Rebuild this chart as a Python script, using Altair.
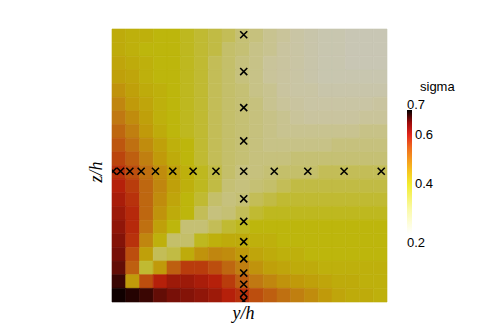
import altair as alt
import pandas as pd
import numpy as np

# sigma, one list per row of cells (z/h from top to bottom),
# columns are y/h cell centres 0.025 ... 0.975
z975 = [0.42,0.41,0.41,0.40,0.40,0.39,0.38,0.37,0.36,0.34,0.33,0.31,0.30,0.28,0.27,0.26,0.26,0.25,0.25,0.25]
z925 = [0.42,0.41,0.40,0.40,0.40,0.39,0.38,0.37,0.35,0.34,0.32,0.31,0.29,0.28,0.27,0.26,0.26,0.25,0.25,0.25]
z875 = [0.43,0.42,0.41,0.40,0.40,0.39,0.38,0.36,0.35,0.33,0.32,0.30,0.29,0.28,0.27,0.26,0.26,0.25,0.25,0.25]
z825 = [0.44,0.43,0.41,0.40,0.40,0.39,0.38,0.36,0.35,0.33,0.32,0.30,0.29,0.28,0.27,0.26,0.26,0.26,0.26,0.26]
z775 = [0.46,0.44,0.42,0.41,0.40,0.39,0.38,0.36,0.35,0.34,0.32,0.31,0.29,0.28,0.28,0.27,0.27,0.27,0.27,0.27]
z725 = [0.48,0.45,0.43,0.41,0.40,0.39,0.38,0.36,0.35,0.34,0.33,0.31,0.30,0.29,0.28,0.28,0.28,0.28,0.28,0.29]
z675 = [0.50,0.47,0.44,0.41,0.40,0.39,0.38,0.36,0.35,0.34,0.33,0.32,0.31,0.30,0.29,0.29,0.29,0.29,0.30,0.30]
z625 = [0.52,0.49,0.45,0.42,0.40,0.39,0.38,0.36,0.35,0.34,0.33,0.32,0.31,0.31,0.31,0.31,0.31,0.31,0.32,0.32]
z575 = [0.54,0.51,0.47,0.44,0.41,0.40,0.38,0.36,0.35,0.34,0.33,0.32,0.32,0.32,0.32,0.32,0.33,0.33,0.33,0.33]
z525 = [0.56,0.53,0.49,0.45,0.42,0.40,0.38,0.36,0.35,0.34,0.33,0.33,0.33,0.34,0.34,0.34,0.34,0.34,0.34,0.34]
z475 = [0.58,0.55,0.51,0.47,0.44,0.41,0.39,0.37,0.35,0.33,0.33,0.34,0.35,0.35,0.35,0.36,0.36,0.36,0.36,0.36]
z425 = [0.60,0.57,0.52,0.48,0.44,0.41,0.39,0.37,0.34,0.33,0.34,0.35,0.36,0.37,0.37,0.37,0.37,0.37,0.37,0.37]
z375 = [0.61,0.58,0.52,0.47,0.43,0.40,0.38,0.35,0.33,0.34,0.36,0.37,0.38,0.38,0.38,0.38,0.38,0.38,0.38,0.38]
z325 = [0.62,0.59,0.52,0.46,0.42,0.40,0.36,0.33,0.34,0.36,0.38,0.39,0.39,0.39,0.39,0.39,0.39,0.39,0.39,0.39]
z275 = [0.63,0.59,0.51,0.44,0.40,0.34,0.34,0.36,0.38,0.39,0.40,0.40,0.40,0.40,0.40,0.40,0.40,0.40,0.40,0.40]
z225 = [0.64,0.58,0.48,0.41,0.35,0.35,0.39,0.41,0.42,0.42,0.41,0.41,0.40,0.40,0.40,0.40,0.40,0.40,0.40,0.40]
z175 = [0.65,0.55,0.44,0.36,0.37,0.42,0.46,0.48,0.47,0.45,0.43,0.42,0.41,0.41,0.40,0.40,0.40,0.40,0.40,0.40]
z125 = [0.66,0.53,0.38,0.45,0.53,0.57,0.57,0.55,0.52,0.49,0.46,0.44,0.43,0.42,0.42,0.41,0.41,0.41,0.41,0.41]
z075 = [0.68,0.45,0.55,0.60,0.62,0.62,0.61,0.60,0.57,0.53,0.50,0.48,0.46,0.45,0.44,0.43,0.42,0.42,0.41,0.41]
z025 = [0.70,0.69,0.68,0.66,0.65,0.64,0.63,0.62,0.60,0.58,0.55,0.53,0.51,0.49,0.47,0.45,0.43,0.42,0.42,0.41]

sigma_rows = [z975, z925, z875, z825, z775, z725, z675, z625, z575, z525,
              z475, z425, z375, z325, z275, z225, z175, z125, z075, z025]

# probe positions (crosses)
probe_pos = [0.004, 0.031, 0.065, 0.106, 0.158, 0.221, 0.295, 0.378, 0.479,
             0.590, 0.712, 0.844, 0.979]
probe_line = 0.479

inner_labels = [0.4, 0.6]
end_labels = [0.2, 0.7]

# scales
stops = [0.20, 0.25, 0.30, 0.35, 0.40, 0.45, 0.50, 0.55, 0.60, 0.65, 0.70]
field_colors = ["#c8c8c8", "#c8c6b4", "#c9c49a", "#c4bf6a", "#bdb60c", "#c09a0a",
                "#c07812", "#bc4e0e", "#b5200a", "#781008", "#100000"]
bar_stops = [0.20, 0.30, 0.40, 0.45, 0.50, 0.55, 0.60, 0.65, 0.70]
bar_colors = ["#ffffff", "#fafaa8", "#f2ec30", "#f6c820", "#f59a1e", "#ef6a1e",
              "#e2261c", "#9a0a0a", "#000000"]

n = len(sigma_rows)
edges = np.round(np.linspace(0, 1, n + 1), 4)
recs = []
for i, row in enumerate(sigma_rows):
    z_hi = edges[n - i]
    z_lo = edges[n - i - 1]
    for j, s in enumerate(row):
        recs.append({"y0": edges[j], "y1": edges[j + 1], "z0": z_lo, "z1": z_hi, "sigma": s})
df = pd.DataFrame(recs)

cross_recs = [{"y": p, "z": probe_line} for p in probe_pos]
cross_recs += [{"y": probe_line, "z": p} for p in probe_pos if p != probe_line]
cdf = pd.DataFrame(cross_recs)

ldf = pd.DataFrame({"sigma": [0.2, 0.7]})

xs = alt.Scale(domain=[0, 1], nice=False, zero=False, padding=0)
ys = alt.Scale(domain=[0, 1], nice=False, zero=False, padding=0)
field_scale = alt.Scale(domain=stops, range=field_colors, interpolate="rgb")
bar_scale = alt.Scale(domain=bar_stops, range=bar_colors, interpolate="rgb")

heat = alt.Chart(df).mark_rect(strokeWidth=0.6).encode(
    x=alt.X("y0:Q", scale=xs, axis=alt.Axis(
        title="y/h", labels=False, ticks=False, domain=False, grid=False,
        titleFont="Liberation Serif", titleFontStyle="italic", titleFontWeight="normal",
        titleFontSize=18, titleColor="black", titleX=131, titleY=16,
        titleAlign="center", titleBaseline="alphabetic")),
    x2="y1:Q",
    y=alt.Y("z0:Q", scale=ys, axis=alt.Axis(
        title="z/h", labels=False, ticks=False, domain=False, grid=False,
        titleFont="Liberation Serif", titleFontStyle="italic", titleFontWeight="normal",
        titleFontSize=18, titleColor="black", titleX=-11, titleY=142.5,
        titleAngle=270, titleAlign="center", titleBaseline="alphabetic")),
    y2="z1:Q",
    color=alt.Color("sigma:Q", scale=field_scale, legend=None),
    stroke=alt.Stroke("sigma:Q", scale=field_scale, legend=None),
)

crosses = alt.Chart(cdf).mark_point(
    shape="M-1,-1L1,1M-1,1L1,-1", size=50, filled=False, stroke="black",
    strokeWidth=1.6, opacity=1, clip=True
).encode(x=alt.X("y:Q", scale=xs), y=alt.Y("z:Q", scale=ys))

lab_font = dict(labelFont="Liberation Sans", labelFontSize=13, labelColor="black")

# visible colour bar with the inner labels
bar = alt.Chart(ldf).mark_point(opacity=0).encode(
    color=alt.Color("sigma:Q", scale=bar_scale, legend=alt.Legend(
        title=None, orient="none", legendX=295, legendY=81,
        direction="vertical", gradientLength=124, gradientThickness=5,
        gradientStrokeWidth=0, values=inner_labels, format=".1f",
        labelOffset=3, padding=0, labelOverlap=False, **lab_font))
)

# end labels, sitting just beyond the ends of the bar
ends = alt.Chart(ldf).mark_point(opacity=0).encode(
    fill=alt.Fill("sigma:Q", scale=bar_scale, legend=alt.Legend(
        title=None, orient="none", legendX=295, legendY=70,
        direction="vertical", gradientLength=151, gradientThickness=0,
        gradientOpacity=0, gradientStrokeWidth=0, values=end_labels, format=".1f",
        labelOffset=0, padding=0, labelOverlap=False, **lab_font))
)

# colour bar title (its own labels are left empty)
ttl = alt.Chart(ldf).mark_point(opacity=0).encode(
    stroke=alt.Stroke("sigma:Q", scale=bar_scale, legend=alt.Legend(
        title="sigma", orient="none", legendX=308, legendY=52,
        direction="vertical", gradientLength=8, gradientThickness=1,
        gradientOpacity=0, gradientStrokeWidth=0, values=[0.2], labelExpr="''",
        titleFont="Liberation Sans", titleFontSize=13, titleFontWeight="normal",
        titleColor="black", titlePadding=3, padding=0))
)

chart = alt.layer(heat, crosses, bar, ends, ttl).resolve_scale(
    color="independent", fill="independent", stroke="independent"
).properties(
    width=275, height=273,
    autosize=alt.AutoSizeParams(type="none"),
    padding={"left": 104, "top": 21, "right": 104, "bottom": 22},
    background="white",
).configure_view(stroke=None)

chart.save("out.html", embed_options={"renderer": "svg", "actions": False})
